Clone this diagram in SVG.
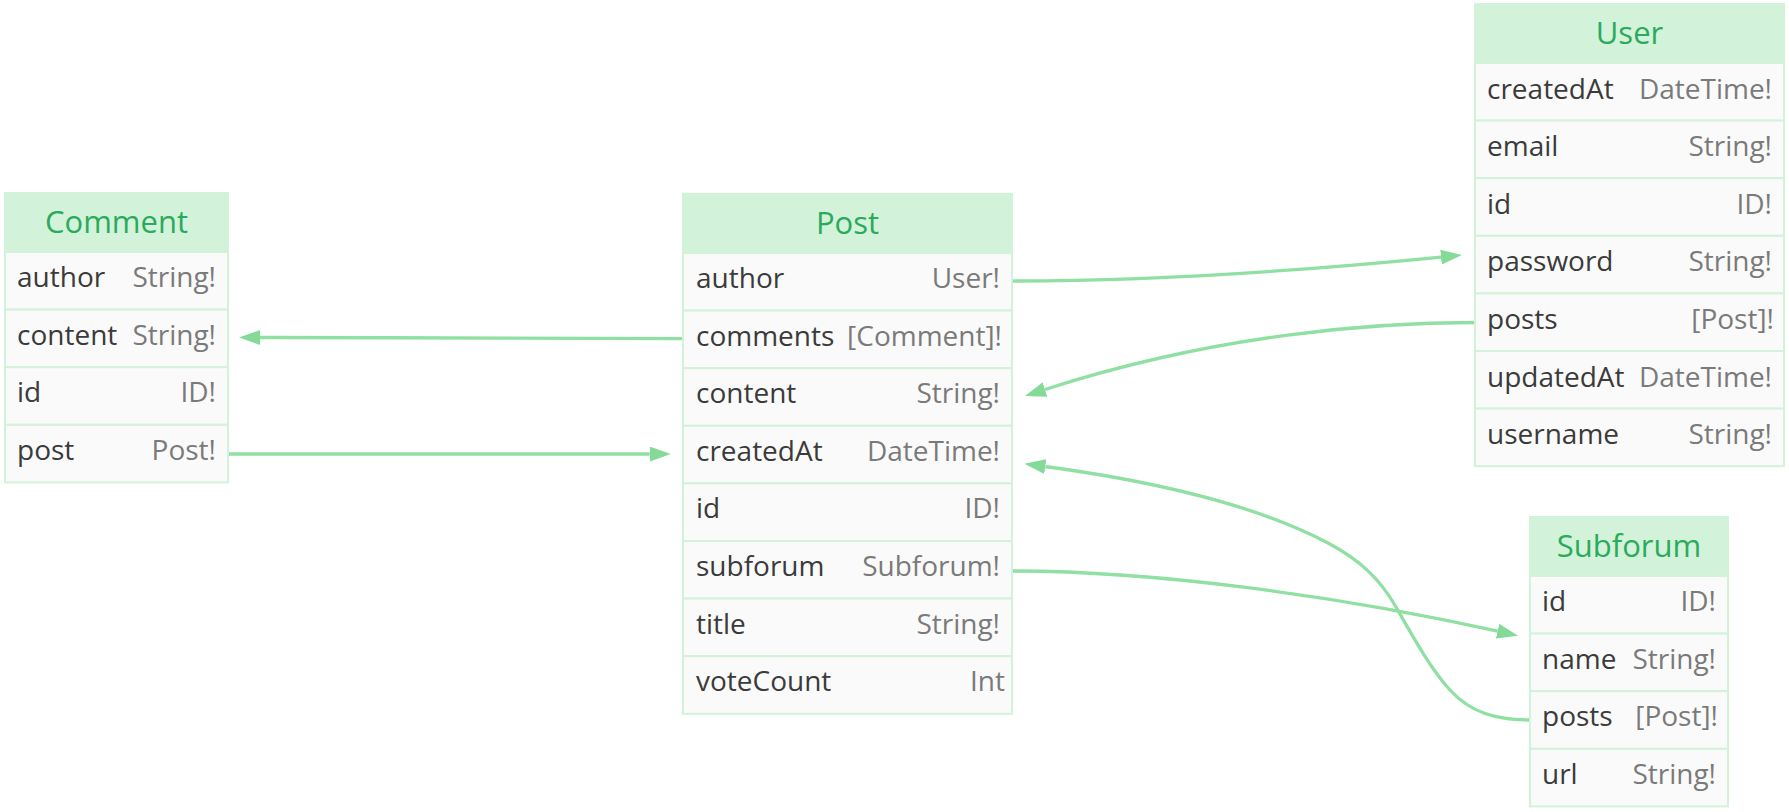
<svg xmlns="http://www.w3.org/2000/svg" width="1789" height="812" viewBox="0 0 1789 812">
<defs>
<style>
.hdr{fill:#d3f2da;stroke:#d3f2da;stroke-width:2}
.row{fill:#fafafa;stroke:#d3f2da;stroke-width:2}
.title{font-family:"Open Sans","Noto Sans",sans-serif;font-size:31px;fill:#2aab5c;text-anchor:middle}
.fn{font-family:"Open Sans","Noto Sans",sans-serif;font-size:28px;fill:#3b3b3b}
.ft{font-family:"Open Sans","Noto Sans",sans-serif;font-size:28px;fill:#7a7a7a;text-anchor:end}
.edge{fill:none;stroke:#8fe0a2;stroke-width:3.3;marker-end:url(#arr)}
</style>
<marker id="arr" markerUnits="userSpaceOnUse" markerWidth="21" markerHeight="15" refX="0" refY="7.5" orient="auto" viewBox="0 0 21 15">
<path d="M0,0 L21,7.5 L0,15 z" fill="#84da96"/>
</marker>
</defs>
<rect width="1789" height="812" fill="#ffffff"/>

<g id="connectors">
<path class="edge" d="M1012,281 C1140,281 1290,272 1441,257.1"/>
<path class="edge" d="M1475,322.5 C1380,322.5 1220,333 1045,389.5"/>
<path class="edge" d="M683,338.6 C500,338.6 400,337.5 260,337.5"/>
<path class="edge" d="M228,454 L649.7,454"/>
<path class="edge" d="M1012,571 C1150,571 1330,594 1497.6,631.1"/>
<path class="edge" d="M1530,720 C1495,720 1470,712 1450,690 C1430,668 1412,635 1396,607 C1380,579 1360,560 1328,543 C1260,507 1160,482 1045.3,466.5"/>
</g>

<g id="Comment">
<rect class="hdr" x="5" y="193" width="223" height="59"/>
<text class="title" x="116.5" y="233">Comment</text>
<rect class="row" x="5" y="252" width="223" height="57.6"/>
<text class="fn" x="17" y="287">author</text><text class="ft" x="216" y="287">String!</text>
<rect class="row" x="5" y="309.6" width="223" height="57.6"/>
<text class="fn" x="17" y="344.6">content</text><text class="ft" x="216" y="344.6">String!</text>
<rect class="row" x="5" y="367.2" width="223" height="57.6"/>
<text class="fn" x="17" y="402.2">id</text><text class="ft" x="216" y="402.2">ID!</text>
<rect class="row" x="5" y="424.8" width="223" height="57.6"/>
<text class="fn" x="17" y="459.8">post</text><text class="ft" x="216" y="459.8">Post!</text>
</g>

<g id="Post">
<rect class="hdr" x="683" y="194" width="329" height="59"/>
<text class="title" x="847.5" y="234">Post</text>
<rect class="row" x="683" y="253" width="329" height="57.6"/>
<text class="fn" x="696" y="288">author</text><text class="ft" x="1000" y="288">User!</text>
<rect class="row" x="683" y="310.6" width="329" height="57.6"/>
<text class="fn" x="696" y="345.6">comments</text><text class="ft" x="1002" y="345.6">[Comment]!</text>
<rect class="row" x="683" y="368.2" width="329" height="57.6"/>
<text class="fn" x="696" y="403.2">content</text><text class="ft" x="1000" y="403.2">String!</text>
<rect class="row" x="683" y="425.8" width="329" height="57.6"/>
<text class="fn" x="696" y="460.8">createdAt</text><text class="ft" x="1000" y="460.8">DateTime!</text>
<rect class="row" x="683" y="483.4" width="329" height="57.6"/>
<text class="fn" x="696" y="518.4">id</text><text class="ft" x="1000" y="518.4">ID!</text>
<rect class="row" x="683" y="541" width="329" height="57.6"/>
<text class="fn" x="696" y="576">subforum</text><text class="ft" x="1000" y="576">Subforum!</text>
<rect class="row" x="683" y="598.6" width="329" height="57.6"/>
<text class="fn" x="696" y="633.6">title</text><text class="ft" x="1000" y="633.6">String!</text>
<rect class="row" x="683" y="656.2" width="329" height="57.6"/>
<text class="fn" x="696" y="691.2">voteCount</text><text class="ft" x="1005" y="691.2">Int</text>
</g>

<g id="User">
<rect class="hdr" x="1475" y="4" width="309" height="59"/>
<text class="title" x="1629.5" y="43.5">User</text>
<rect class="row" x="1475" y="63" width="309" height="57.6"/>
<text class="fn" x="1487" y="98.5">createdAt</text><text class="ft" x="1772" y="98.5">DateTime!</text>
<rect class="row" x="1475" y="120.6" width="309" height="57.6"/>
<text class="fn" x="1487" y="156.1">email</text><text class="ft" x="1772" y="156.1">String!</text>
<rect class="row" x="1475" y="178.2" width="309" height="57.6"/>
<text class="fn" x="1487" y="213.7">id</text><text class="ft" x="1772" y="213.7">ID!</text>
<rect class="row" x="1475" y="235.8" width="309" height="57.6"/>
<text class="fn" x="1487" y="271.3">password</text><text class="ft" x="1772" y="271.3">String!</text>
<rect class="row" x="1475" y="293.4" width="309" height="57.6"/>
<text class="fn" x="1487" y="328.9">posts</text><text class="ft" x="1774" y="328.9">[Post]!</text>
<rect class="row" x="1475" y="351" width="309" height="57.6"/>
<text class="fn" x="1487" y="386.5">updatedAt</text><text class="ft" x="1772" y="386.5">DateTime!</text>
<rect class="row" x="1475" y="408.6" width="309" height="57.6"/>
<text class="fn" x="1487" y="444.1">username</text><text class="ft" x="1772" y="444.1">String!</text>
</g>

<g id="Subforum">
<rect class="hdr" x="1530" y="517" width="198" height="59"/>
<text class="title" x="1629" y="557">Subforum</text>
<rect class="row" x="1530" y="576" width="198" height="57.6"/>
<text class="fn" x="1542" y="611">id</text><text class="ft" x="1716" y="611">ID!</text>
<rect class="row" x="1530" y="633.6" width="198" height="57.6"/>
<text class="fn" x="1542" y="668.6">name</text><text class="ft" x="1716" y="668.6">String!</text>
<rect class="row" x="1530" y="691.2" width="198" height="57.6"/>
<text class="fn" x="1542" y="726.2">posts</text><text class="ft" x="1718" y="726.2">[Post]!</text>
<rect class="row" x="1530" y="748.8" width="198" height="57.6"/>
<text class="fn" x="1542" y="783.8">url</text><text class="ft" x="1716" y="783.8">String!</text>
</g>
</svg>
